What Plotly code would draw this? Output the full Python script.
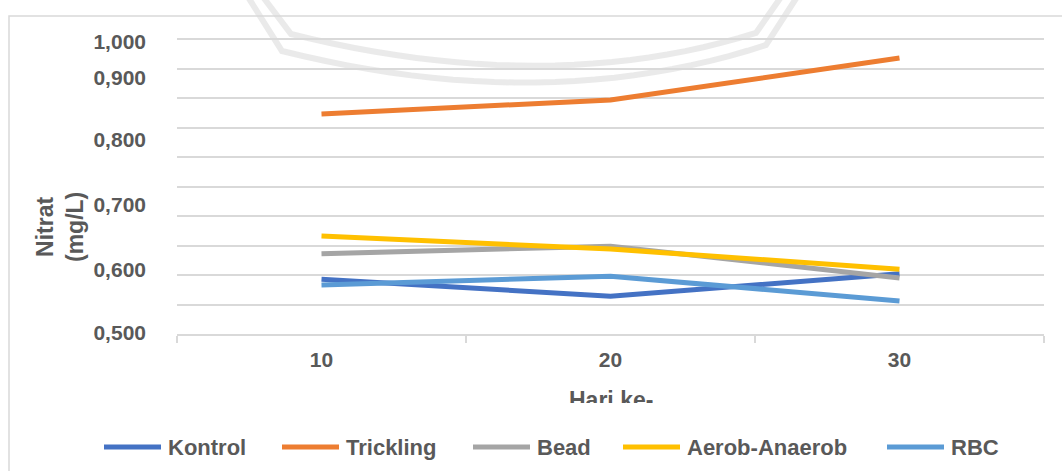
import plotly.graph_objects as go

# Nitrate concentration per treatment over the sampling days
days = ["10", "20", "30"]
kontrol = [0.593, 0.564, 0.602]
trickling = [0.873, 0.897, 0.968]
bead = [0.636, 0.649, 0.595]
aerob_anaerob = [0.666, 0.644, 0.610]
rbc = [0.583, 0.598, 0.556]

series_names = ["Kontrol", "Trickling", "Bead", "Aerob-Anaerob", "RBC"]
series_values = [kontrol, trickling, bead, aerob_anaerob, rbc]
series_colors = ["#4472C4", "#ED7D31", "#A5A5A5", "#FFC000", "#5B9BD5"]

# y tick labels and where they sit on the value scale
y_tick_text = ["0,500", "0,600", "0,700", "0,800", "0,900", "1,000"]
y_tick_pos = [0.5017, 0.6085, 0.7186, 0.8288, 0.9356, 0.995]

Y_MIN, Y_MAX = 0.5, 1.002
W, H = 1062, 471
L, R, T, B = 177, 1044, 38, 334  # plot area in pixels
TXT = "#595959"
GRID = "#d9d9d9"
FONT = "Liberation Sans, Arial, sans-serif"


def px(x):
    return (x - L) / (R - L)


def py(y):
    return (B - y) / (B - T)


def arc_path(p0, p1, ctrl, p2, p3, steps=24):
    # straight leg, quadratic bow, straight leg (pixel coords -> paper coords)
    pts = [p0, p1]
    for i in range(1, steps):
        t = i / steps
        x = (1 - t) ** 2 * p1[0] + 2 * (1 - t) * t * ctrl[0] + t ** 2 * p2[0]
        y = (1 - t) ** 2 * p1[1] + 2 * (1 - t) * t * ctrl[1] + t ** 2 * p2[1]
        pts.append((x, y))
    pts += [p2, p3]
    return "M " + " L ".join("{:.4f},{:.4f}".format(px(x), py(y)) for x, y in pts)


fig = go.Figure()
for name, vals, col in zip(series_names, series_values, series_colors):
    fig.add_trace(go.Scatter(x=days, y=vals, name=name, mode="lines",
                             line=dict(color=col, width=5), showlegend=False))

shapes = []
# faint emblem arcs in the background
arc_col = "rgba(205,205,205,0.42)"
shapes.append(dict(type="path", xref="paper", yref="paper", layer="below",
                   path=arc_path((248, -3), (282, 51), (546, 117), (766, 45), (797, -3)),
                   line=dict(color=arc_col, width=6)))
shapes.append(dict(type="path", xref="paper", yref="paper", layer="below",
                   path=arc_path((263, -3), (291, 34), (548, 98), (756, 33), (781, -3)),
                   line=dict(color=arc_col, width=6)))
# chart frame
shapes.append(dict(type="rect", xref="paper", yref="paper", layer="below",
                   x0=px(9), x1=px(1080), y0=py(16), y1=py(500),
                   line=dict(color=GRID, width=1.5), fillcolor="rgba(0,0,0,0)"))

# legend row
legend_x = [104, 282, 473, 623, 887]
legend_y = 447
annotations = []
for name, col, x0 in zip(series_names, series_colors, legend_x):
    shapes.append(dict(type="line", xref="paper", yref="paper",
                       x0=px(x0), x1=px(x0 + 57), y0=py(legend_y), y1=py(legend_y),
                       line=dict(color=col, width=5)))
    annotations.append(dict(xref="paper", yref="paper", x=px(x0 + 62), y=py(legend_y),
                            xanchor="left", yanchor="middle", showarrow=False, text=name,
                            font=dict(family=FONT, size=22, color=TXT, weight="bold")))

# axis titles
annotations.append(dict(xref="paper", yref="paper", x=px(60), y=py(227),
                        xanchor="center", yanchor="middle", showarrow=False,
                        text="Nitrat<br>(mg/L)", textangle=-90,
                        font=dict(family=FONT, size=23, color=TXT, weight="bold")))
annotations.append(dict(xref="paper", yref="paper", x=0.5, y=py(385),
                        xanchor="center", yanchor="top", valign="top", height=16,
                        showarrow=False, text="Hari ke-",
                        font=dict(family=FONT, size=23, color=TXT, weight="bold")))

fig.update_layout(
    width=W, height=H,
    margin=dict(l=L, r=W - R, t=T, b=H - B),
    paper_bgcolor="white", plot_bgcolor="white",
    showlegend=False,
    shapes=shapes, annotations=annotations,
    xaxis=dict(type="category", categoryorder="array", categoryarray=days,
               range=[-0.5, 2.5], tickson="boundaries", ticks="outside",
               ticklen=7, tickcolor=GRID, tickwidth=1.5,
               showline=True, linecolor=GRID, linewidth=1.5, showgrid=False,
               tickfont=dict(family=FONT, size=21, color=TXT, weight="bold"),
               ticklabelstandoff=6),
    yaxis=dict(range=[Y_MIN, Y_MAX], tickmode="array",
               tickvals=y_tick_pos, ticktext=y_tick_text,
               showgrid=False, zeroline=False, ticks="", ticklabelstandoff=30,
               tickfont=dict(family=FONT, size=21, color=TXT, weight="bold"),
               minor=dict(tickmode="linear", tick0=0.5, dtick=0.05, ticks="",
                          showgrid=True, gridcolor=GRID, gridwidth=1.5)),
)

fig.write_html("out.html")
